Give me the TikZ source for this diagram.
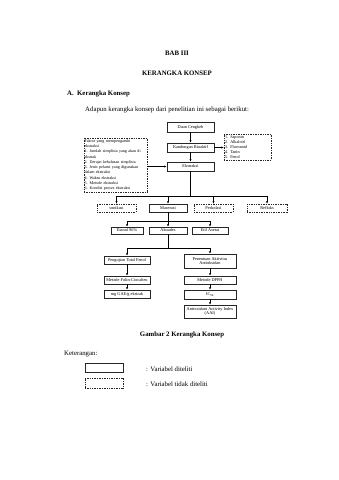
\documentclass[tikz,border=0pt]{standalone}
\usepackage{fontspec}
\setmainfont{Liberation Serif}
\usetikzlibrary{arrows.meta}
\begin{document}
\begin{tikzpicture}[x=1pt,y=-1pt,
  boxfont/.style={font=\fontsize{4.3}{5.2}\selectfont},
  solidbox/.style={draw=black!85,line width=0.65pt,inner sep=0pt,align=center,boxfont},
  dashbox/.style={draw=black!85,line width=0.45pt,dash pattern=on 1pt off 0.7pt,inner sep=0pt,align=center,boxfont},
  conn/.style={line width=0.5pt,draw=black},
  arr/.style={conn,-{Latex[length=2.4pt,width=2.2pt]}},
  body/.style={font=\fontsize{6.8}{8}\selectfont,inner sep=0pt},
  bodyb/.style={font=\fontsize{6.8}{8}\selectfont\bfseries,inner sep=0pt}]
\useasboundingbox[fill=white] (0,0) rectangle (339,480);

% header texts
\node[bodyb,anchor=base] (bab) at (177,55) {BAB III};
\node[bodyb,anchor=base] (judul) at (177,75) {KERANGKA KONSEP};
\node[bodyb,anchor=base west] (subA) at (67,95) {A.};
\node[bodyb,anchor=base west] (subB) at (77,95) {Kerangka Konsep};
\node[body,anchor=base west] (intro) at (85,111) {Adapun kerangka konsep dari penelitian ini sebagai berikut:};

% top chain
\node[solidbox,minimum width=47pt,minimum height=10pt] (daun) at (190.5,127) {Daun Cengkeh};
\node[solidbox,minimum width=47pt,minimum height=9pt] (kand) at (190.5,147.5) {Kandungan Bioaktif};
\node[solidbox,minimum width=47pt,minimum height=9pt] (ekstr) at (190.5,166.5) {Ekstraksi};
\node[dashbox,minimum width=47pt,minimum height=26pt,align=left,text width=45pt,inner xsep=1pt,font=\fontsize{4.2}{5.1}\selectfont] (senyawa) at (247.5,147)
  {1. Saponin\\2. Alkaloid\\3. Flavonoid\\4. Tanin\\5. Fenol};
\node[dashbox,minimum width=63pt,minimum height=54pt,align=left,text width=62pt,inner xsep=0.6pt,font=\fontsize{4.1}{5.3}\selectfont] (faktor) at (115.5,165)
  {Faktor yang mempengaruhi\\ekstraksi\\1. Jumlah simplisia yang akan di\\ekstrak\\2. Derajat kehalusan simplisia\\3. Jenis pelarut yang digunakan\\dalam ekstraksi\\4. Waktu ekstraksi\\5. Metode ekstraksi\\6. Kondisi proses ekstraksi};

\draw[arr] (daun) -- (kand);
\draw[arr] (kand) -- (ekstr);
\draw[arr] (kand.east) -- (senyawa.west |- kand.east);
\draw[arr] (faktor.east |- ekstr.west) -- (ekstr.west);

% extraction methods
\node[dashbox,minimum width=39pt,minimum height=8pt] (sonik) at (116.5,208) {sonikasi};
\node[solidbox,minimum width=38pt,minimum height=8pt] (maser) at (168,208) {Maserasi};
\node[dashbox,minimum width=39pt,minimum height=8pt] (perkol) at (213.5,208) {Perkolasi};
\node[dashbox,minimum width=40pt,minimum height=8pt] (reflux) at (267,208) {Refluks};

\coordinate (j1) at (190.5,196);
\draw[conn] (ekstr.south) -- (j1);
\draw[conn] (sonik.north |- j1) -- (reflux.north |- j1);
\draw[arr] (sonik.north |- j1) -- (sonik.north);
\draw[arr] (maser.north |- j1) -- (maser.north);
\draw[arr] (perkol.north |- j1) -- (perkol.north);
\draw[arr] (reflux.north |- j1) -- (reflux.north);

% solvents
\node[solidbox,minimum width=32pt,minimum height=7pt] (etanol) at (127,230.5) {Etanol 96\%};
\node[solidbox,minimum width=38pt,minimum height=7pt] (akuades) at (168,230.5) {Akuades};
\node[solidbox,minimum width=36pt,minimum height=7pt] (etil) at (210,230.5) {Etil Asetat};

\coordinate (j2) at (168,221);
\draw[conn] (etanol.north |- j2) -- (etil.north |- j2);
\draw[arr] (maser.south) -- (akuades.north);
\draw[arr] (etanol.north |- j2) -- (etanol.north);
\draw[arr] (etil.north |- j2) -- (etil.north);

% tests
\node[solidbox,minimum width=46pt,minimum height=8pt] (fenol) at (127,260) {Pengujian Total Fenol};
\node[solidbox,minimum width=46pt,minimum height=8pt] (folin) at (127,280) {Metode Folin-Ciocalteu};
\node[solidbox,minimum width=46pt,minimum height=8pt] (gae) at (127,294) {mg GAE/g ekstrak};
\node[solidbox,minimum width=52pt,minimum height=14pt,font=\fontsize{4.3}{4.9}\selectfont] (antiox) at (210,261) {Penentuan Aktivitas\\Antioksidan};
\node[solidbox,minimum width=52pt,minimum height=8pt] (dpph) at (210,280) {Metode DPPH};
\node[solidbox,minimum width=52pt,minimum height=9pt] (ic) at (210,294.5) {IC\textsubscript{50}};
\node[solidbox,minimum width=52pt,minimum height=13pt,font=\fontsize{4.3}{4.9}\selectfont] (aai) at (210,311.5) {Antioxidant Activity Index\\(AAI)};

\coordinate (j3) at (168,248);
\draw[conn] (akuades.south) -- (j3);
\draw[conn] (fenol.north |- j3) -- (antiox.north |- j3);
\draw[arr] (fenol.north |- j3) -- (fenol.north);
\draw[arr] (antiox.north |- j3) -- (antiox.north);
\draw[arr] (fenol) -- (folin);
\draw[arr] (folin) -- (gae);
\draw[arr] (antiox) -- (dpph);
\draw[arr] (dpph) -- (ic);
\draw[arr] (ic) -- (aai);

% caption and legend
\node[bodyb,anchor=base] (caption) at (182,336) {Gambar 2 Kerangka Konsep};
\node[body,anchor=base west] (ket) at (64,355) {Keterangan:};
\node[solidbox,minimum width=38pt,minimum height=9pt] (legs) at (104,367.5) {};
\node[dashbox,minimum width=38pt,minimum height=10pt] (legd) at (104,383) {};
\node[body,anchor=base west] (legst) at (146,371) {: Variabel diteliti};
\node[body,anchor=base west] (legdt) at (146,386) {: Variabel tidak diteliti};
\end{tikzpicture}
\end{document}
